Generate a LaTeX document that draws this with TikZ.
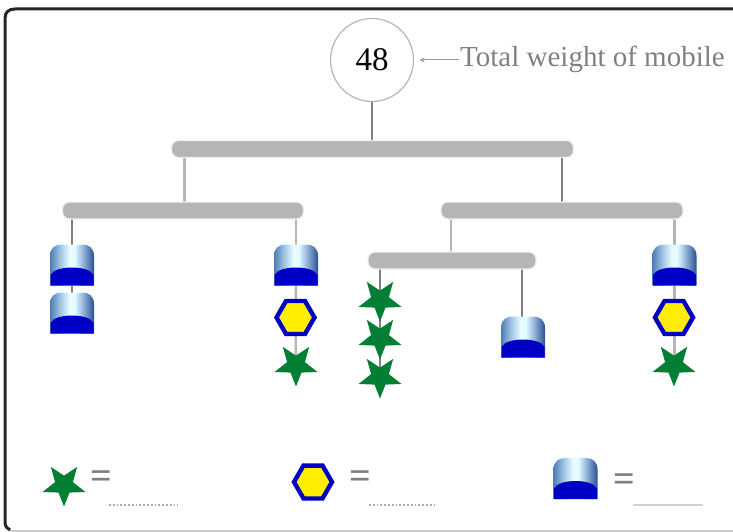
\documentclass[tikz,border=0pt]{standalone}
\usepackage{fontspec}
\setmainfont{Liberation Serif}
\usetikzlibrary{shapes.geometric,arrows.meta,backgrounds}
\definecolor{barcol}{HTML}{B5B5B5}
\definecolor{linecol}{HTML}{7F7F7F}
\definecolor{domeblue}{HTML}{0000C4}
\definecolor{stargreen}{HTML}{037F35}
\definecolor{hexyellow}{HTML}{FFEE00}
\definecolor{steelA}{HTML}{4F7DB5}
\definecolor{steelB}{HTML}{9CC3E4}
\definecolor{steelC}{HTML}{E6FCFF}
\definecolor{steelD}{HTML}{8DB0D8}
\definecolor{steelE}{HTML}{2A5090}
\pgfdeclarehorizontalshading{domeshade}{100bp}{
  color(0bp)=(steelA);
  color(25bp)=(steelA);
  color(36bp)=(steelB);
  color(47bp)=(steelC);
  color(53bp)=(steelC);
  color(63bp)=(steelD);
  color(75bp)=(steelE);
  color(100bp)=(steelE)}
\tikzset{
  x=1pt,y=-1pt,
  barnode/.style={rectangle,rounded corners=7pt,fill=barcol,draw=black!6,line width=1.2pt,inner sep=0pt,outer sep=0pt,minimum height=17pt},
  starnode/.style={circle,inner sep=0pt,outer sep=0pt,minimum size=36pt},
  hexnode/.style={regular polygon,regular polygon sides=6,fill=hexyellow,draw=domeblue,line width=4.4pt,inner sep=0pt,outer sep=0pt,minimum size=38pt},
  domenode/.style={rectangle,inner sep=0pt,outer sep=0pt,minimum width=44pt,minimum height=41pt},
  link/.style={linecol,line width=1.8pt},
  palelink/.style={barcol,line width=3pt},
  eqsign/.style={text=linecol,inner sep=0pt,font=\bfseries\fontsize{38}{38}\selectfont},
  blank/.style={black!32,line width=1.8pt,dotted},
}
\newcommand{\domeat}[3]{%
  \node[domenode] (#1) at (#2,#3) {};
  \begin{scope}[shift={(#2,#3)}]
    \shade[shading=domeshade] (-22,20.5) -- (-22,-9) .. controls (-22,-17) and (-17,-20.5) .. (-10,-20.5)
      -- (10,-20.5) .. controls (17,-20.5) and (22,-17) .. (22,-9) -- (22,20.5) -- cycle;
    \fill[domeblue] (-21.5,20.5) -- (-21.5,10) .. controls (-17,0) and (17,0) .. (21.5,10) -- (21.5,20.5) -- cycle;
  \end{scope}}
\newcommand{\starat}[3]{%
  \node[starnode] (#1) at (#2,#3) {};
  \begin{scope}[shift={(#2,#3)}]
    \fill[stargreen] (0,21.5) -- (5.5,7.6) -- (21.4,6.95) -- (8.9,-2.9) -- (13.2,-18.2) -- (0,-9.4)
      -- (-13.2,-18.2) -- (-8.9,-2.9) -- (-21.4,6.95) -- (-5.5,7.6) -- cycle;
  \end{scope}}
\begin{document}
\begin{tikzpicture}
\useasboundingbox (0,0) rectangle (733,532);
% frame
\draw[black!20,line width=2pt] (10,530.5) -- (733,530.5);
\draw[black!85,line width=3pt] (733,9) -- (15,9) .. controls (9,9) and (5,12) .. (5,18) -- (5,522) .. controls (5,526) and (7,529) .. (10,530);
% top
\node[circle,draw=black!30,line width=1.1pt,fill=white,minimum size=83pt,inner sep=0pt,outer sep=0pt,font=\fontsize{33}{33}\selectfont] (total) at (372,60) {48};
\node[anchor=west,inner sep=0pt,text=black!50,font=\fontsize{29}{29}\selectfont] (lab) at (460,59.5) {Total weight of mobile};
% bars
\node[barnode,minimum width=402pt] (top) at (372.5,149) {};
\node[barnode,minimum width=241pt] (lbar) at (183,210.5) {};
\node[barnode,minimum width=242pt] (rbar) at (562,210.5) {};
\node[barnode,minimum width=168pt] (sbar) at (452,260.5) {};
\coordinate (jl) at (184,202);
\coordinate (jr) at (562,202);
\coordinate (js) at (451,252);
\coordinate (jd) at (522,269);
\coordinate (jst) at (380,269);
% hanging things
\domeat{d1}{72}{265}
\domeat{d2}{72}{313}
\domeat{d3}{296}{265}
\node[hexnode] (h1) at (295.5,317.5) {};
\starat{s1}{296}{365}
\starat{s2}{380}{300}
\starat{s3}{380}{338}
\starat{s4}{380}{377}
\domeat{d4}{523}{337}
\domeat{d5}{674.5}{265}
\node[hexnode] (h2) at (674,317.5) {};
\starat{s5}{674}{365}
% legend
\starat{ls}{64}{485}
\node[hexnode] (lh) at (313,482) {};
\domeat{ld}{575.5}{478.5}
\node[eqsign] (e1) at (101,479.5) {=};
\node[eqsign] (e2) at (360.5,479.5) {=};
\node[eqsign] (e3) at (624,482.5) {=};
\coordinate (u1a) at (109,505); \coordinate (u1b) at (178,505);
\coordinate (u2a) at (369,505); \coordinate (u2b) at (437,505);
\coordinate (u3a) at (633,505); \coordinate (u3b) at (703,505);
\draw[blank] (u1a) -- (u1b);
\draw[blank] (u2a) -- (u2b);
\draw[blank,black!18,solid] (u3a) -- (u3b);
% connectors
\begin{scope}[on background layer]
\fill[white] (0,0) rectangle (733,532);
\draw[link,line width=1.2pt] (total.south) -- (total.south |- top.north);
\draw[palelink] (top.south -| jl) -- (jl);
\draw[link] (top.south -| jr) -- (jr);
\draw[link] (lbar.south -| d1.north) -- (d1.north);
\draw[link] (d1.south) -- (d2.north);
\draw[palelink,line width=2.4pt] (lbar.south -| d3.north) -- (d3.north);
\draw[palelink,line width=2.4pt] (d3.south) -- (h1.center);
\draw[palelink,line width=2.4pt] (h1.center) -- (s1.center);
\draw[palelink,line width=2.6pt] (rbar.south -| js) -- (js);
\draw[link] (jst) -- (s2.center);
\draw[link] (s2.center) -- (s3.center);
\draw[link] (s3.center) -- (s4.center);
\draw[link] (jd) -- (jd |- d4.north);
\draw[palelink] (rbar.south -| d5.north) -- (d5.north);
\draw[palelink] (d5.south) -- (h2.center);
\draw[palelink] (h2.center) -- (s5.center);
\end{scope}
\draw[black!40,line width=1pt,-{Stealth[length=5pt,width=4.5pt]},shorten >=6pt,shorten <=1pt] (lab.west |- total.east) -- (total.east);
\end{tikzpicture}
\end{document}
